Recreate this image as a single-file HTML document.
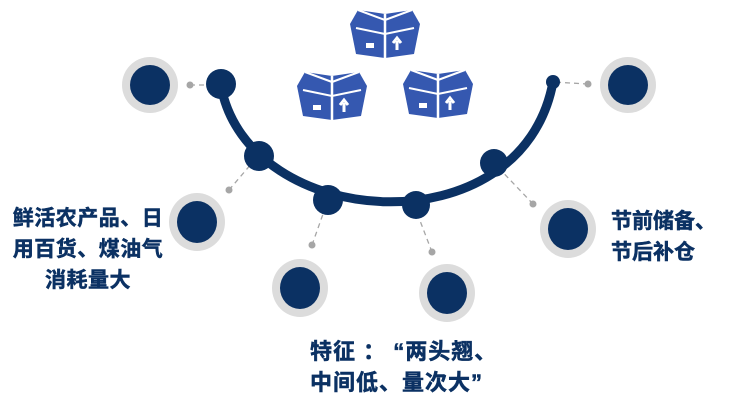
<!DOCTYPE html>
<html><head><meta charset="utf-8"><style>
body{margin:0;width:731px;height:412px;background:#fff;overflow:hidden;position:relative}
.t{position:absolute;font-family:"Liberation Sans","Noto Sans CJK SC",sans-serif;font-weight:bold;color:#0b3163;white-space:nowrap;-webkit-text-stroke:0.5px #0b3163}
</style></head><body>
<svg width="731" height="412" style="position:absolute;left:0;top:0">
<defs>
<g id="box">
<path d="M0,14 L8,0 L35,4 L35,48 L6,44 Z" fill="#3558b0"/>
<path d="M35,4 L62,0 L70,14 L64,44 L35,48 Z" fill="#3558b0"/>
<path d="M6,18 L35,24 L64,18" stroke="#fff" stroke-width="2" fill="none"/>
<path d="M35,4 L35,48" stroke="#fff" stroke-width="2.5"/>
<path d="M8,0 L35,10 L62,0" stroke="#fff" stroke-width="2" fill="none"/>
<rect x="16" y="33" width="8" height="5" fill="#fff"/>
<path d="M47,40 V31 M43,33 L47,28 L51,33" stroke="#fff" stroke-width="3" fill="none"/>
</g>
</defs>
<use href="#box" x="350" y="10"/>
<use href="#box" x="297" y="72"/>
<use href="#box" x="403" y="70"/>
<g stroke="#a6a6a6" stroke-width="1.3" stroke-dasharray="5,4">
<line x1="190" y1="85" x2="220" y2="85"/>
<line x1="229" y1="190" x2="258" y2="156"/>
<line x1="312" y1="245" x2="328" y2="200"/>
<line x1="432" y1="252" x2="414" y2="205"/>
<line x1="533" y1="204" x2="494" y2="163"/>
<line x1="588" y1="84" x2="553" y2="82"/>
</g>
<g fill="#a6a6a6">
<circle cx="190" cy="85" r="3.5"/><circle cx="229" cy="190" r="3.5"/><circle cx="312" cy="245" r="3.5"/>
<circle cx="432" cy="252" r="3.5"/><circle cx="533" cy="204" r="3.5"/><circle cx="588" cy="84" r="3.5"/>
</g>
<path d="M221,86 C248,232 522,250 553,82" stroke="#0b3163" stroke-width="9" fill="none"/>
<g fill="#0b3163">
<circle cx="221" cy="84" r="15"/><circle cx="259" cy="156" r="15"/><circle cx="328" cy="200" r="15"/>
<circle cx="416" cy="205" r="14"/><circle cx="494" cy="163" r="14"/><circle cx="553" cy="82" r="7"/>
</g>
<g fill="#dcdcdc">
<ellipse cx="150" cy="85" rx="28" ry="28"/><ellipse cx="197" cy="222" rx="28" ry="29"/>
<ellipse cx="300" cy="288" rx="28" ry="29"/><ellipse cx="447" cy="293" rx="28" ry="29"/>
<ellipse cx="568" cy="229" rx="28" ry="29"/><ellipse cx="628" cy="85" rx="28" ry="28"/>
</g>
<g fill="#0b3163">
<ellipse cx="150" cy="85" rx="20" ry="20"/><ellipse cx="197" cy="222" rx="20" ry="21"/>
<ellipse cx="300" cy="288" rx="20" ry="21"/><ellipse cx="447" cy="293" rx="20" ry="21"/>
<ellipse cx="568" cy="229" rx="20" ry="21"/><ellipse cx="628" cy="85" rx="20" ry="20"/>
</g>
</svg>
<div class="t" style="left:9px;top:203px;font-size:21px;line-height:31px;text-align:center;width:158px;letter-spacing:0.5px">鲜活农产品、日<br>用百货、煤油气<br>消耗量大</div>
<div class="t" style="left:611px;top:206px;font-size:21px;line-height:31px">节前储备、<br>节后补仓</div>
<div class="t" style="left:310px;top:336px;font-size:22px;line-height:31px;letter-spacing:1px">特征 ： “两头翘、<br>中间低、量次大”</div>
</body></html>
